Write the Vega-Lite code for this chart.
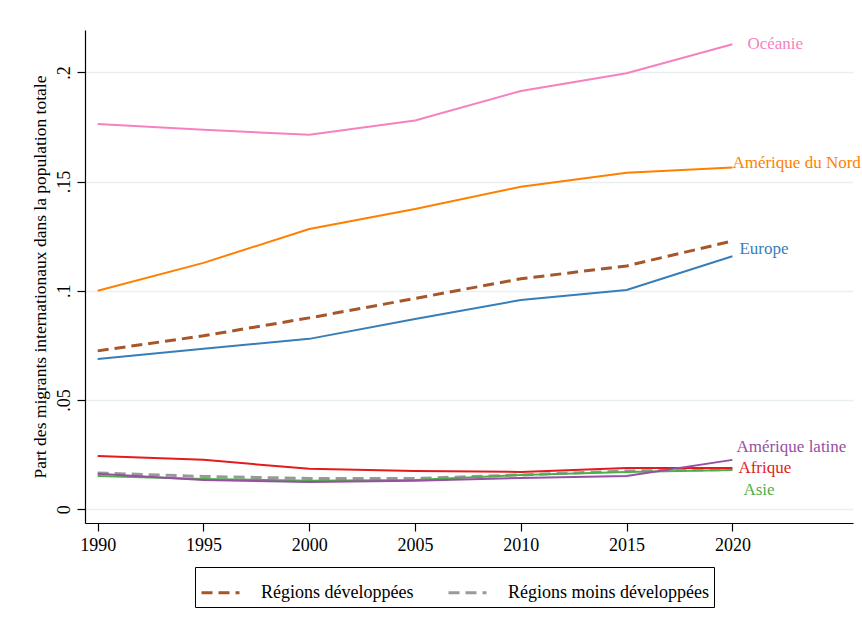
{
  "$schema": "https://vega.github.io/schema/vega-lite/v6.json",
  "autosize": {"type": "none"},
  "width": 768,
  "height": 493,
  "padding": {"left": 85, "top": 30, "right": 9, "bottom": 107},
  "background": "white",
  "config": {
    "font": "Liberation Serif",
    "view": {"stroke": null},
    "axis": {"labelFont": "Liberation Serif", "titleFont": "Liberation Serif", "labelColor": "black", "titleColor": "black", "domainColor": "black", "tickColor": "black", "titleFontWeight": "normal"}
  },
  "data": {"values": [
    {"series": "Océanie", "year": 1990, "value": 0.1764},
    {"series": "Océanie", "year": 1995, "value": 0.1737},
    {"series": "Océanie", "year": 2000, "value": 0.1714},
    {"series": "Océanie", "year": 2005, "value": 0.1780},
    {"series": "Océanie", "year": 2010, "value": 0.1915},
    {"series": "Océanie", "year": 2015, "value": 0.1996},
    {"series": "Océanie", "year": 2020, "value": 0.2129},
    {"series": "Amérique du Nord", "year": 1990, "value": 0.1000},
    {"series": "Amérique du Nord", "year": 1995, "value": 0.1128},
    {"series": "Amérique du Nord", "year": 2000, "value": 0.1283},
    {"series": "Amérique du Nord", "year": 2005, "value": 0.1375},
    {"series": "Amérique du Nord", "year": 2010, "value": 0.1476},
    {"series": "Amérique du Nord", "year": 2015, "value": 0.1540},
    {"series": "Amérique du Nord", "year": 2020, "value": 0.1565},
    {"series": "Régions développées", "year": 1990, "value": 0.0725},
    {"series": "Régions développées", "year": 1995, "value": 0.0794},
    {"series": "Régions développées", "year": 2000, "value": 0.0876},
    {"series": "Régions développées", "year": 2005, "value": 0.0965},
    {"series": "Régions développées", "year": 2010, "value": 0.1055},
    {"series": "Régions développées", "year": 2015, "value": 0.1114},
    {"series": "Régions développées", "year": 2020, "value": 0.1228},
    {"series": "Europe", "year": 1990, "value": 0.0688},
    {"series": "Europe", "year": 1995, "value": 0.0735},
    {"series": "Europe", "year": 2000, "value": 0.0780},
    {"series": "Europe", "year": 2005, "value": 0.0871},
    {"series": "Europe", "year": 2010, "value": 0.0958},
    {"series": "Europe", "year": 2015, "value": 0.1004},
    {"series": "Europe", "year": 2020, "value": 0.1158},
    {"series": "Afrique", "year": 1990, "value": 0.0244},
    {"series": "Afrique", "year": 1995, "value": 0.0226},
    {"series": "Afrique", "year": 2000, "value": 0.0185},
    {"series": "Afrique", "year": 2005, "value": 0.0175},
    {"series": "Afrique", "year": 2010, "value": 0.0171},
    {"series": "Afrique", "year": 2015, "value": 0.0189},
    {"series": "Afrique", "year": 2020, "value": 0.0189},
    {"series": "Régions moins développées", "year": 1990, "value": 0.0166},
    {"series": "Régions moins développées", "year": 1995, "value": 0.0150},
    {"series": "Régions moins développées", "year": 2000, "value": 0.0141},
    {"series": "Régions moins développées", "year": 2005, "value": 0.0141},
    {"series": "Régions moins développées", "year": 2010, "value": 0.0157},
    {"series": "Régions moins développées", "year": 2015, "value": 0.0175},
    {"series": "Régions moins développées", "year": 2020, "value": 0.0182},
    {"series": "Asie", "year": 1990, "value": 0.0152},
    {"series": "Asie", "year": 1995, "value": 0.0139},
    {"series": "Asie", "year": 2000, "value": 0.0130},
    {"series": "Asie", "year": 2005, "value": 0.0134},
    {"series": "Asie", "year": 2010, "value": 0.0157},
    {"series": "Asie", "year": 2015, "value": 0.0171},
    {"series": "Asie", "year": 2020, "value": 0.0180},
    {"series": "Amérique latine", "year": 1990, "value": 0.0162},
    {"series": "Amérique latine", "year": 1995, "value": 0.0134},
    {"series": "Amérique latine", "year": 2000, "value": 0.0125},
    {"series": "Amérique latine", "year": 2005, "value": 0.0130},
    {"series": "Amérique latine", "year": 2010, "value": 0.0143},
    {"series": "Amérique latine", "year": 2015, "value": 0.0152},
    {"series": "Amérique latine", "year": 2020, "value": 0.0226}
  ]},
  "encoding": {
    "x": {"field": "year", "type": "quantitative",
      "scale": {"domain": [1989.4, 2025.7], "nice": false, "zero": false},
      "axis": {"title": null, "values": [1990, 1995, 2000, 2005, 2010, 2015, 2020], "format": "d", "grid": false, "labelFontSize": 18, "tickSize": 8, "labelPadding": 5, "domainWidth": 1.2, "tickWidth": 1.2}},
    "y": {"field": "value", "type": "quantitative",
      "scale": {"domain": [-0.0063, 0.2194], "nice": false, "zero": false},
      "axis": {"title": "Part des migrants internationaux dans la population totale", "titleFontSize": 17.5, "titlePadding": 6,
        "values": [0, 0.05, 0.1, 0.15, 0.2],
        "labelExpr": "datum.value == 0 ? '0' : replace(format(datum.value, '.2~f'), '0.', '.')",
        "labelAngle": -90, "labelAlign": "center", "labelBaseline": "bottom", "labelFontSize": 18, "labelPadding": 4,
        "tickSize": 8, "grid": true, "gridColor": "#e8eff1", "gridWidth": 1.5, "domainWidth": 1.2, "tickWidth": 1.2}},
    "color": {"field": "series", "type": "nominal",
      "scale": {
        "domain": ["Régions développées", "Régions moins développées", "Océanie", "Amérique du Nord", "Europe", "Afrique", "Asie", "Amérique latine"],
        "range": ["#a65628", "#999999", "#f781bf", "#ff7f00", "#377eb8", "#e41a1c", "#4daf4a", "#984ea3"]},
      "legend": {"values": ["Régions développées", "Régions moins développées"], "title": null,
        "orient": "none", "legendX": 110, "legendY": 537, "direction": "horizontal", "columns": 2,
        "symbolType": "stroke", "symbolSize": 1444, "symbolStrokeWidth": 3, "symbolDash": [11, 6],
        "labelFont": "Liberation Serif", "labelFontSize": 18, "labelColor": "black", "labelOffset": 20,
        "columnPadding": 28, "padding": 5, "strokeColor": "black", "fillColor": "white", "labelLimit": 300}}
  },
  "layer": [
    {"transform": [{"filter": "indexof(datum.series, 'Régions') == 0"}],
     "mark": {"type": "line", "strokeWidth": 3, "strokeDash": [11, 6]}},
    {"transform": [{"filter": "indexof(datum.series, 'Régions') != 0"}],
     "mark": {"type": "line", "strokeWidth": 2}},
    {"transform": [{"filter": "datum.year == 2020 && datum.series == 'Océanie'"}],
     "mark": {"type": "text", "align": "left", "baseline": "middle", "fontSize": 17, "dx": 15, "dy": 0},
     "encoding": {"text": {"field": "series"}}},
    {"transform": [{"filter": "datum.year == 2020 && datum.series == 'Amérique du Nord'"}],
     "mark": {"type": "text", "align": "left", "baseline": "middle", "fontSize": 17, "dx": 0, "dy": -4},
     "encoding": {"text": {"field": "series"}}},
    {"transform": [{"filter": "datum.year == 2020 && datum.series == 'Europe'"}],
     "mark": {"type": "text", "align": "left", "baseline": "middle", "fontSize": 17, "dx": 7, "dy": -7},
     "encoding": {"text": {"field": "series"}}},
    {"transform": [{"filter": "datum.year == 2020 && datum.series == 'Amérique latine'"}],
     "mark": {"type": "text", "align": "left", "baseline": "middle", "fontSize": 17, "dx": 4, "dy": -13},
     "encoding": {"text": {"field": "series"}}},
    {"transform": [{"filter": "datum.year == 2020 && datum.series == 'Afrique'"}],
     "mark": {"type": "text", "align": "left", "baseline": "middle", "fontSize": 17, "dx": 6, "dy": 0},
     "encoding": {"text": {"field": "series"}}},
    {"transform": [{"filter": "datum.year == 2020 && datum.series == 'Asie'"}],
     "mark": {"type": "text", "align": "left", "baseline": "middle", "fontSize": 17, "dx": 11, "dy": 20},
     "encoding": {"text": {"field": "series"}}}
  ]
}
